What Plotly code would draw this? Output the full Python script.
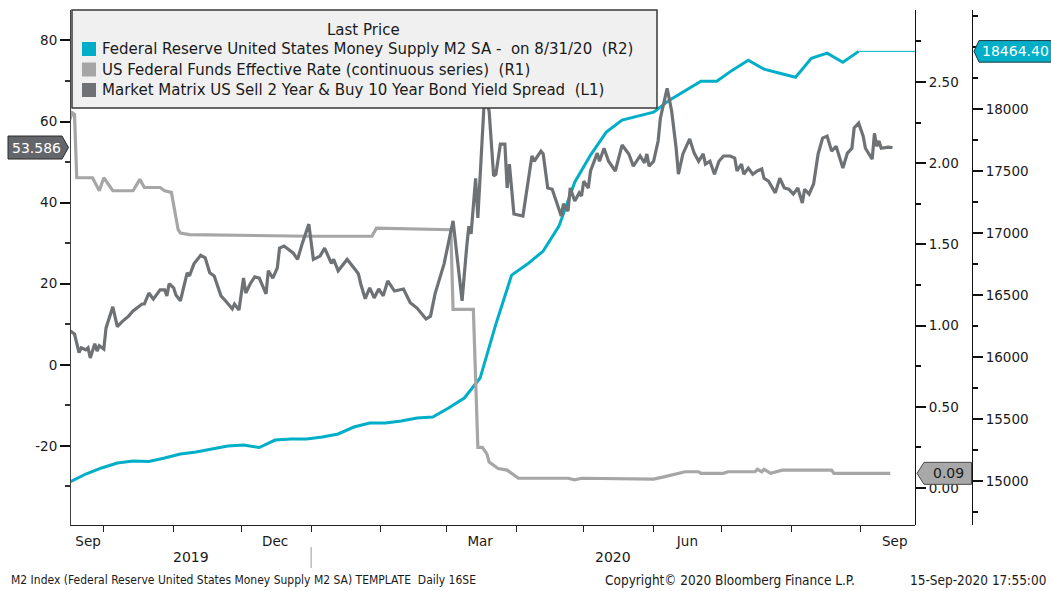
import plotly.graph_objects as go
import pandas as pd

# ---------------- data ----------------
# Market Matrix US Sell 2 Year & Buy 10 Year Bond Yield Spread (L1)
spread_dates = [
    "2019-09-16", "2019-09-18", "2019-09-20", "2019-09-21", "2019-09-23", "2019-09-24", "2019-09-25", "2019-09-27", "2019-09-28", "2019-09-29",
    "2019-10-01", "2019-10-02", "2019-10-05", "2019-10-07", "2019-10-09", "2019-10-12", "2019-10-14", "2019-10-18", "2019-10-19", "2019-10-21",
    "2019-10-23", "2019-10-26", "2019-10-28", "2019-10-29", "2019-10-30", "2019-11-01", "2019-11-02", "2019-11-04", "2019-11-07", "2019-11-08",
    "2019-11-10", "2019-11-13", "2019-11-15", "2019-11-17", "2019-11-19", "2019-11-22", "2019-11-24", "2019-11-27", "2019-11-28", "2019-11-30",
    "2019-12-02", "2019-12-03", "2019-12-05", "2019-12-07", "2019-12-09", "2019-12-11", "2019-12-12", "2019-12-13", "2019-12-15", "2019-12-17",
    "2019-12-18", "2019-12-20", "2019-12-24", "2019-12-26", "2019-12-28", "2019-12-31",
    "2020-01-02", "2020-01-05", "2020-01-07", "2020-01-10", "2020-01-11", "2020-01-13", "2020-01-17", "2020-01-21", "2020-01-22", "2020-01-23",
    "2020-01-25", "2020-01-27", "2020-01-29", "2020-01-31", "2020-02-02", "2020-02-04", "2020-02-07", "2020-02-11", "2020-02-14", "2020-02-17",
    "2020-02-21", "2020-02-23", "2020-02-25", "2020-02-29", "2020-03-02", "2020-03-04", "2020-03-06", "2020-03-08", "2020-03-10", "2020-03-11",
    "2020-03-12", "2020-03-14", "2020-03-15", "2020-03-17", "2020-03-18", "2020-03-20", "2020-03-22", "2020-03-23", "2020-03-25", "2020-03-27",
    "2020-03-28", "2020-03-29", "2020-03-31", "2020-04-04", "2020-04-08", "2020-04-09", "2020-04-12", "2020-04-13", "2020-04-15", "2020-04-17",
    "2020-04-18", "2020-04-20", "2020-04-21", "2020-04-22", "2020-04-24", "2020-04-25", "2020-04-27", "2020-04-29", "2020-04-30", "2020-05-01",
    "2020-05-03", "2020-05-04", "2020-05-07", "2020-05-08", "2020-05-10", "2020-05-12", "2020-05-15", "2020-05-18", "2020-05-21", "2020-05-23",
    "2020-05-26", "2020-05-28", "2020-05-29", "2020-05-30", "2020-06-01", "2020-06-03", "2020-06-04", "2020-06-07", "2020-06-09", "2020-06-11",
    "2020-06-12", "2020-06-14", "2020-06-17", "2020-06-19", "2020-06-21", "2020-06-23", "2020-06-24", "2020-06-26", "2020-06-28", "2020-06-30",
    "2020-07-02", "2020-07-05", "2020-07-07", "2020-07-08", "2020-07-10", "2020-07-11", "2020-07-13", "2020-07-15", "2020-07-17", "2020-07-19",
    "2020-07-20", "2020-07-22", "2020-07-25", "2020-07-27", "2020-07-29", "2020-07-31", "2020-08-02", "2020-08-04", "2020-08-06", "2020-08-07",
    "2020-08-09", "2020-08-11", "2020-08-12", "2020-08-13", "2020-08-15", "2020-08-17", "2020-08-19", "2020-08-21", "2020-08-24", "2020-08-26",
    "2020-08-28", "2020-08-29", "2020-08-31", "2020-09-02", "2020-09-03", "2020-09-06", "2020-09-07", "2020-09-08", "2020-09-09", "2020-09-10",
    "2020-09-13", "2020-09-15",
]
spread_vals = [
    8.4, 7.6, 3.0, 4.2, 3.7, 4.2, 1.7, 5.2, 3.4, 4.7,
    3.9, 9.1, 14.3, 9.4, 10.6, 12.0, 13.3, 15.0, 15.0, 17.7,
    16.2, 18.5, 18.5, 17.0, 20.0, 19.0, 17.2, 15.8, 22.7, 21.9,
    24.9, 27.0, 26.4, 22.7, 21.9, 17.0, 15.8, 13.8, 15.0, 13.5,
    21.4, 17.7, 20.0, 21.7, 21.4, 19.0, 17.5, 23.2, 21.4, 23.9,
    28.8, 29.3, 27.6, 26.0, 29.8, 34.7,
    26.0, 26.8, 28.8, 25.0, 26.0, 23.2, 26.0, 23.2, 22.4, 20.0,
    16.3, 19.0, 16.5, 18.7, 17.0, 20.7, 18.2, 18.7, 15.3, 14.0,
    11.3, 12.0, 17.5, 24.9, 30.5, 35.5, 25.6, 15.8, 28.8, 34.2,
    32.3, 46.0, 36.2, 58.4, 66.7, 62.6, 46.6, 47.0, 54.4, 54.4,
    43.6, 49.5, 37.2, 36.7, 51.5, 50.2, 52.7, 52.0, 43.6, 43.3,
    41.6, 38.7, 36.7, 39.7, 37.9, 43.6, 40.4, 42.4, 41.6, 45.3,
    43.6, 47.8, 52.2, 50.2, 53.4, 50.2, 47.8, 54.2, 52.0, 49.0,
    51.5, 49.8, 52.0, 49.0, 50.2, 55.2, 60.8, 68.2, 62.6, 53.4,
    47.0, 52.0, 55.7, 52.2, 50.2, 52.0, 49.5, 50.2, 47.0, 50.2,
    51.5, 51.5, 51.0, 47.8, 49.5, 47.0, 48.5, 47.0, 47.8, 48.3,
    46.0, 45.3, 42.4, 46.0, 43.6, 43.3, 42.1, 43.6, 39.9, 43.3,
    42.1, 44.6, 49.0, 52.0, 55.9, 56.4, 52.7, 53.9, 48.5, 52.2,
    53.4, 58.4, 59.6, 56.4, 53.4, 50.7, 57.1, 53.9, 55.2, 53.4,
    53.7, 53.586,
]

# US Federal Funds Effective Rate (continuous series) (R1)
ffr_dates = [
    "2019-09-16", "2019-09-17", "2019-09-18", "2019-09-19", "2019-09-26", "2019-09-29", "2019-10-01", "2019-10-05",
    "2019-10-14", "2019-10-17", "2019-10-19", "2019-10-26", "2019-10-28", "2019-10-31", "2019-11-03", "2019-11-04",
    "2019-11-08", "2019-12-31", "2020-01-28", "2020-01-30", "2020-03-03", "2020-03-04", "2020-03-13", "2020-03-15",
    "2020-03-17", "2020-03-19", "2020-03-20", "2020-03-24", "2020-03-28", "2020-04-02", "2020-04-24", "2020-04-27",
    "2020-04-30", "2020-06-01", "2020-06-06", "2020-06-09", "2020-06-15", "2020-06-21", "2020-06-22", "2020-07-02",
    "2020-07-04", "2020-07-16", "2020-07-17", "2020-07-19", "2020-07-20", "2020-07-23", "2020-07-28", "2020-08-19",
    "2020-08-20", "2020-09-14",
]
ffr_vals = [
    2.27, 2.31, 2.30, 1.91, 1.91, 1.83, 1.91, 1.83,
    1.83, 1.90, 1.85, 1.85, 1.83, 1.82, 1.59, 1.57,
    1.56, 1.55, 1.55, 1.60, 1.59, 1.10, 1.10, 0.25,
    0.25, 0.21, 0.16, 0.12, 0.11, 0.06, 0.06, 0.05,
    0.06, 0.055, 0.07, 0.08, 0.10, 0.10, 0.09, 0.09,
    0.10, 0.10, 0.115, 0.10, 0.115, 0.09, 0.11, 0.11,
    0.09, 0.09,
]

# Federal Reserve United States Money Supply M2 SA (R2), weekly
m2_dates = pd.date_range("2019-09-16", "2020-08-31", freq="7D")
m2_vals = [
    14992, 15056, 15105, 15145, 15161, 15157, 15185, 15218, 15234, 15258,
    15282, 15290, 15270, 15330, 15339, 15339, 15355, 15379, 15435, 15467,
    15467, 15484, 15508, 15516, 15588, 15669, 15830, 16265, 16660, 16749,
    16854, 17055, 17410, 17628, 17813, 17910, 17942, 17974, 18071, 18151,
    18224, 18224, 18313, 18393, 18321, 18288, 18256, 18409, 18450, 18377,
    18464.40,
]

legend_title = "Last Price"
legend_labels = [
    "Federal Reserve United States Money Supply M2 SA -  on 8/31/20  (R2)",
    "US Federal Funds Effective Rate (continuous series)  (R1)",
    "Market Matrix US Sell 2 Year & Buy 10 Year Bond Yield Spread  (L1)",
]
x_label_dates = ["2019-09-24", "2019-12-16", "2020-03-16", "2020-06-16", "2020-09-16"]
x_label_text = ["Sep", "Dec", "Mar", "Jun", "Sep"]
month_starts = [d.strftime("%Y-%m-%d") for d in pd.date_range("2019-10-01", "2020-09-01", freq="MS")]
left_ticks = [-20, 0, 20, 40, 60, 80]
left_ticktext = ["-20", "0", "20", "40", "60", "80"]
r2_ticks = [15000, 15500, 16000, 16500, 17000, 17500, 18000, 18500]
r2_ticktext = ["15000", "15500", "16000", "16500", "17000", "17500", "18000", ""]  # 18500 hidden under tag

footer_left = "M2 Index (Federal Reserve United States Money Supply M2 SA) TEMPLATE  Daily 16SE"
footer_mid = "Copyright\u00a9 2020 Bloomberg Finance L.P."
footer_right = "15-Sep-2020 17:55:00"

# ---------------- layout geometry ----------------
W, H = 1051, 591
ML, MR, MT, MB = 70, 79, 10, 66
PW = W - ML - MR
PH = H - MT - MB
XDOM = 845 / PW
X0, X1 = "2019-09-16", "2020-09-25"
YL = [-39.5, 87.5]
YR1 = [-0.228, 2.943]
YR2 = [14645, 18798]

C_M2 = "#00aec7"
C_FF = "#a6a6a6"
C_SP = "#6f7275"
TXT = "#1a1a1a"
FONT = "DejaVu Sans"


def px(xp):
    return (xp - ML) / PW


def py(yp):
    return (H - MB - yp) / PH


fig = go.Figure()
fig.add_trace(go.Scatter(x=m2_dates, y=m2_vals, yaxis="y", mode="lines",
                         line=dict(color=C_M2, width=3), name=legend_labels[0]))
fig.add_trace(go.Scatter(x=ffr_dates, y=ffr_vals, yaxis="y2", mode="lines",
                         line=dict(color=C_FF, width=3.2), name=legend_labels[1]))
fig.add_trace(go.Scatter(x=spread_dates, y=spread_vals, yaxis="y3", mode="lines",
                         line=dict(color=C_SP, width=3.2), name=legend_labels[2]))

tickfont = dict(family=FONT, size=13.5, color=TXT)
common_y = dict(showgrid=False, zeroline=False, showline=True, linecolor="#111", linewidth=1,
                ticks="outside", ticklen=10, tickwidth=2, tickcolor="#111", tickfont=tickfont)

fig.update_layout(
    width=W, height=H,
    margin=dict(l=ML, r=MR, t=MT, b=MB, autoexpand=False),
    paper_bgcolor="white", plot_bgcolor="white", showlegend=False,
    font=dict(family=FONT, color=TXT),
    xaxis=dict(domain=[0, XDOM], anchor="y", type="date", range=[X0, X1],
               tickmode="array", tickvals=x_label_dates, ticktext=x_label_text,
               ticks="outside", ticklen=4, tickcolor="rgba(0,0,0,0)",
               showline=True, linecolor="#222", linewidth=1, showgrid=False, zeroline=False,
               minor=dict(tickmode="array", tickvals=month_starts, ticks="outside",
                          ticklen=6, tickcolor="#222", tickwidth=1, showgrid=False),
               tickfont=tickfont),
    yaxis=dict(anchor="free", position=1.0, side="right", range=YR2,
               tickmode="array", tickvals=r2_ticks, ticktext=r2_ticktext,
               minor=dict(dtick=250, tick0=15000, ticks="outside", ticklen=5, tickcolor="#111"),
               **common_y),
    yaxis2=dict(anchor="free", position=XDOM, side="right", overlaying="y", range=YR1,
                tickmode="linear", tick0=0, dtick=0.5, tickformat=".2f",
                minor=dict(dtick=0.25, tick0=0, ticks="outside", ticklen=5, tickcolor="#111"),
                **common_y),
    yaxis3=dict(anchor="free", position=0, side="left", overlaying="y", range=YL,
                tickmode="array", tickvals=left_ticks, ticktext=left_ticktext,
                minor=dict(dtick=10, tick0=0, ticks="outside", ticklen=5, tickcolor="#333"),
                **{**common_y, "linecolor": "#444"}),
)

shapes = []
annotations = []

# last price line for M2
shapes.append(dict(type="line", xref="x", yref="y", x0=m2_dates[-1], x1=X1,
                   y0=m2_vals[-1], y1=m2_vals[-1], line=dict(color=C_M2, width=1), layer="above"))

# legend box
LFS = 15
shapes.append(dict(type="rect", xref="paper", yref="paper", x0=px(72), x1=px(657), y0=py(108), y1=py(10),
                   fillcolor="#f0f0f0", line=dict(color="#3a3a3a", width=1.5), layer="above"))
annotations.append(dict(xref="paper", yref="paper", x=px(363), y=py(30), text=legend_title, showarrow=False,
                        xanchor="center", yanchor="middle", font=dict(family=FONT, size=LFS, color=TXT)))
sq_colors = [C_M2, C_FF, C_SP]
row_y = [49, 69.5, 90]
for lab, col, ry in zip(legend_labels, sq_colors, row_y):
    shapes.append(dict(type="rect", xref="paper", yref="paper", x0=px(82), x1=px(96),
                       y0=py(ry + 7), y1=py(ry - 7), fillcolor=col, line=dict(width=0), layer="above"))
    annotations.append(dict(xref="paper", yref="paper", x=px(100), y=py(ry), text=lab, showarrow=False,
                            xanchor="left", yanchor="middle", font=dict(family=FONT, size=LFS, color=TXT)))


def tag(x_tip, x_body, x_far, yc, hh):
    return (f"M {x_tip},{yc} L {x_body},{yc + hh} L {x_far},{yc + hh} "
            f"L {x_far},{yc - hh} L {x_body},{yc - hh} Z")


# last-value tags
hh2 = 10.8 * (YR2[1] - YR2[0]) / PH
shapes.append(dict(type="path", xref="paper", yref="y",
                   path=tag(px(974), px(979), px(1052), m2_vals[-1], hh2),
                   fillcolor=C_M2, line=dict(color="#1f3a40", width=1), layer="above"))
annotations.append(dict(xref="paper", yref="y", x=px(1015), y=m2_vals[-1], text=f"{m2_vals[-1]:.2f}",
                        showarrow=False, xanchor="center", yanchor="middle",
                        font=dict(family=FONT, size=14, color="white")))

hh1 = 11 * (YR1[1] - YR1[0]) / PH
shapes.append(dict(type="path", xref="paper", yref="y2",
                   path=tag(px(917), px(924), px(971.5), ffr_vals[-1], hh1),
                   fillcolor="#a8a8a8", line=dict(color="#4a4a4a", width=1), layer="above"))
annotations.append(dict(xref="paper", yref="y2", x=px(948), y=ffr_vals[-1], text=f"{ffr_vals[-1]:.2f}",
                        showarrow=False, xanchor="center", yanchor="middle",
                        font=dict(family=FONT, size=14, color=TXT)))

hhl = 11.5 * (YL[1] - YL[0]) / PH
shapes.append(dict(type="path", xref="paper", yref="y3",
                   path=tag(px(68.5), px(62), px(8), spread_vals[-1], hhl),
                   fillcolor="#63676b", line=dict(color="#2a2a2a", width=1), layer="above"))
annotations.append(dict(xref="paper", yref="y3", x=px(36), y=spread_vals[-1], text=f"{spread_vals[-1]:.3f}",
                        showarrow=False, xanchor="center", yanchor="middle",
                        font=dict(family=FONT, size=14, color="white")))

# year labels and separator
x0t, x1t = pd.Timestamp(X0), pd.Timestamp(X1)
ny = pd.Timestamp("2020-01-01")
annotations.append(dict(xref="x", yref="paper", x=x0t + (ny - x0t) / 2, y=py(557), text="2019",
                        showarrow=False, xanchor="center", yanchor="middle", font=dict(family=FONT, size=14, color=TXT)))
annotations.append(dict(xref="x", yref="paper", x=ny + (x1t - ny) / 2, y=py(557), text="2020",
                        showarrow=False, xanchor="center", yanchor="middle", font=dict(family=FONT, size=14, color=TXT)))
shapes.append(dict(type="line", xref="x", yref="paper", x0=ny, x1=ny, y0=py(547), y1=py(568),
                   line=dict(color="#9a9a9a", width=1)))

# footer
annotations.append(dict(xref="paper", yref="paper", x=px(9), y=py(580), text=footer_left, showarrow=False,
                        xanchor="left", yanchor="middle",
                        font=dict(family="DejaVu Sans Condensed", size=12, color=TXT)))
annotations.append(dict(xref="paper", yref="paper", x=px(603), y=py(580), text=footer_mid, showarrow=False,
                        xanchor="left", yanchor="middle",
                        font=dict(family="DejaVu Sans Condensed", size=13.5, color=TXT)))
annotations.append(dict(xref="paper", yref="paper", x=px(1048), y=py(580), text=footer_right, showarrow=False,
                        xanchor="right", yanchor="middle",
                        font=dict(family="DejaVu Sans Condensed", size=13.5, color=TXT)))

fig.update_layout(shapes=shapes, annotations=annotations)
fig.write_html("out.html", config={"displayModeBar": False},
               post_script="document.body.style.margin='0';document.body.style.padding='0';")
